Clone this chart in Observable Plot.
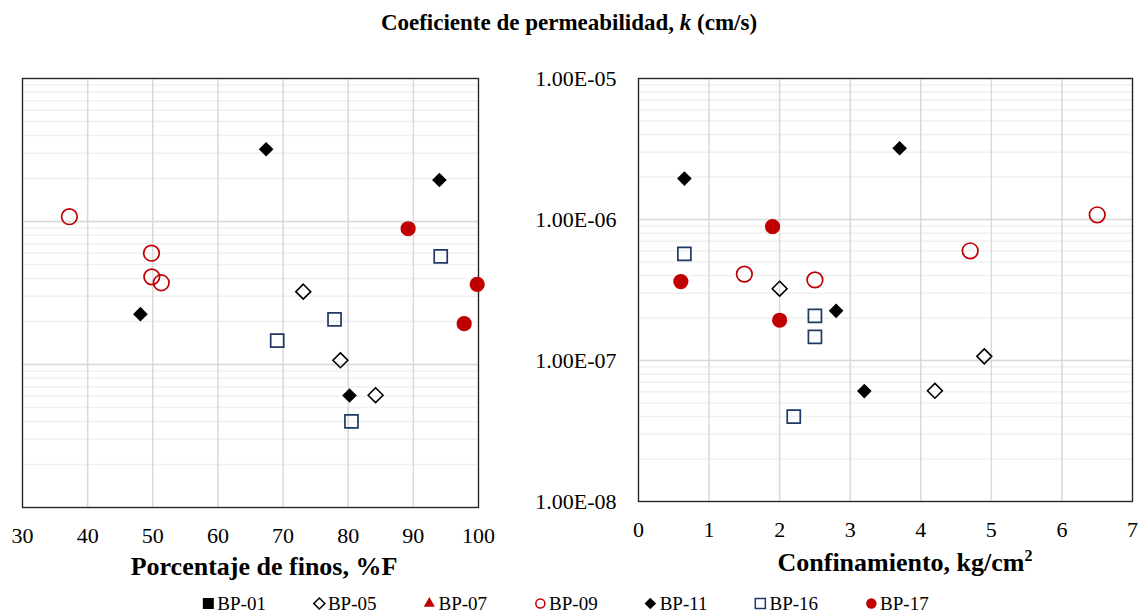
<!DOCTYPE html>
<html><head><meta charset="utf-8">
<script src="https://cdn.jsdelivr.net/npm/d3@7"></script>
<script src="https://cdn.jsdelivr.net/npm/@observablehq/plot@0.6"></script>
<style>
body{margin:0;background:#fff;font-family:"Liberation Serif","Times New Roman",serif;color:#000;}
#wrap{position:relative;width:1140px;height:614px;overflow:hidden;background:#fff}
#wrap svg, #wrap svg text{font-family:"Liberation Serif","Times New Roman",serif !important;}
#title{position:absolute;left:569px;top:22px;transform:translate(-50%,-50%);font-weight:bold;font-size:23px;white-space:nowrap;line-height:1}
#left{position:absolute;left:0;top:0}
#right{position:absolute;left:520px;top:0}
.xt{position:absolute;transform:translate(-50%,-50%);font-weight:bold;font-size:26px;white-space:nowrap;line-height:1}
.xt sup{font-size:16px;vertical-align:top;position:relative;top:-2px}
#xtl{left:264px;top:567px}
#xtr{left:905px;top:563px}
#legend{position:absolute;left:565px;top:603px;transform:translate(-50%,-50%);display:flex;gap:46px;font-size:19px;line-height:1;white-space:nowrap}
#legend .item{display:flex;align-items:center;gap:2px}
</style></head><body>
<div id="wrap">
  <div id="title">Coeficiente de permeabilidad, <i>k</i> (cm/s)</div>
  <div id="left"></div>
  <div id="right"></div>
  <div class="xt" id="xtl">Porcentaje de finos, %F</div>
  <div class="xt" id="xtr">Confinamiento, kg/cm<sup>2</sup></div>
  <div id="legend"></div>
</div>
<script>
// ---- data ----
const series        = ["BP-11","BP-11","BP-09","BP-17","BP-16","BP-09","BP-09","BP-09","BP-17","BP-05","BP-11","BP-16","BP-17","BP-16","BP-05","BP-11","BP-05","BP-16"];
const finos         = [67.4, 94.0, 37.2, 89.2, 94.2, 49.8, 49.85, 51.3, 99.8, 73.1, 48.1, 77.9, 97.8, 69.1, 78.8, 80.2, 84.2, 80.5];
const confinamiento = [3.7, 0.65, 6.5, 1.9, 0.65, 4.7, 1.5, 2.5, 0.6, 2.0, 2.8, 2.5, 2.0, 2.5, 4.9, 3.2, 4.2, 2.2];
const permeab       = [3.2e-6, 1.95e-6, 1.08e-6, 8.9e-7, 5.7e-7, 6.0e-7, 4.1e-7, 3.73e-7, 3.63e-7, 3.23e-7, 2.25e-7, 2.07e-7, 1.93e-7, 1.47e-7, 1.07e-7, 6.07e-8, 6.1e-8, 4.0e-8];
const legendSeries  = ["BP-01","BP-05","BP-07","BP-09","BP-11","BP-16","BP-17"];
const finosTicks    = [30, 40, 50, 60, 70, 80, 90, 100];
const confTicks     = [0, 1, 2, 3, 4, 5, 6, 7];
const kTicks        = [1e-8, 1e-7, 1e-6, 1e-5];

// ---- styles ----
const RED = "#c00000", NAVY = "#1f3864";
const FONT = "Liberation Serif, Times New Roman, serif";
const styles = {
  "BP-01": {symbol: "square2",  fill: "black", stroke: "none", r: 6, lr: 7},
  "BP-05": {symbol: "diamond2", fill: "none",  stroke: "black", strokeWidth: 1.6, r: 6.7, lr: 5},
  "BP-07": {symbol: "triangle2",fill: RED,     stroke: "none", r: 6, lr: 5.3},
  "BP-09": {symbol: "circle",   fill: "none",  stroke: RED, strokeWidth: 1.7, r: 7.8, lr: 4.5},
  "BP-11": {symbol: "diamond2", fill: "black", stroke: "none", r: 6.6, lr: 5.2},
  "BP-16": {symbol: "square2",  fill: "none",  stroke: NAVY, strokeWidth: 1.7, r: 8.3, lr: 6.4},
  "BP-17": {symbol: "circle",   fill: RED,     stroke: "none", r: 7.6, lr: 5.2}
};

const fmtE = d => {
  const [m, e] = d.toExponential(2).split("e");
  const n = +e;
  return `${m}E${n < 0 ? "-" : "+"}${String(Math.abs(n)).padStart(2, "0")}`;
};

function makePlot(xValues, o) {
  const data = series.map((s, i) => ({s, x: xValues[i], k: permeab[i]}));
  const marks = [
    Plot.gridY({ticks: 40, stroke: "#f0f0f0", strokeOpacity: 1, strokeWidth: 1.5}),
    Plot.gridY(kTicks, {stroke: "#d9d9d9", strokeOpacity: 1, strokeWidth: 1.5}),
    Plot.gridX(o.xTicks, {stroke: "#d9d9d9", strokeOpacity: 1, strokeWidth: 1.5}),
    Plot.frame({stroke: "#262626", strokeWidth: 1.3}),
    ...legendSeries.map(s => {
      const {lr, ...st} = styles[s];
      return Plot.dot(data.filter(d => d.s === s), {x: "x", y: "k", ...st});
    }),
    Plot.axisX(o.xTicks, {tickSize: 0, tickPadding: 20, fontSize: 22, fontFamily: FONT, label: null})
  ];
  if (o.yAxis) marks.push(Plot.axisY(kTicks, {tickSize: 0, tickPadding: 22, fontSize: 22, fontFamily: FONT, tickFormat: fmtE, label: null}));
  return Plot.plot({
    width: o.width, height: 580,
    marginLeft: o.marginLeft, marginRight: o.marginRight, marginTop: 78, marginBottom: o.marginBottom,
    style: {fontFamily: FONT, fontSize: "22px", color: "black", background: "transparent", overflow: "visible"},
    x: {domain: o.xDomain},
    y: {type: "log", domain: [1e-8, 1e-5], axis: o.yAxis ? undefined : null},
    marks
  });
}

document.getElementById("left").append(makePlot(finos, {
  width: 500, marginLeft: 22, marginRight: 22, marginBottom: 73,
  xDomain: [30, 100], xTicks: finosTicks, yAxis: false
}));
document.getElementById("right").append(makePlot(confinamiento, {
  width: 620, marginLeft: 118, marginRight: 8, marginBottom: 79,
  xDomain: [0, 7], xTicks: confTicks, yAxis: true
}));

// ---- legend ----
const symMap = {square2: d3.symbolSquare2, diamond2: d3.symbolDiamond2, triangle2: d3.symbolTriangle2, circle: d3.symbolCircle};
const legend = d3.select("#legend");
legendSeries.forEach(s => {
  const st = styles[s];
  const item = legend.append("div").attr("class", "item");
  const svg = item.append("svg").attr("width", 14).attr("height", 14).attr("viewBox", "-7 -7 14 14");
  svg.append("path")
    .attr("d", d3.symbol(symMap[st.symbol], Math.PI * st.lr * st.lr)())
    .attr("fill", st.fill)
    .attr("stroke", st.stroke)
    .attr("stroke-width", st.fill === "none" ? 1.5 : 0);
  item.append("span").text(s);
});
</script>
</body></html>
